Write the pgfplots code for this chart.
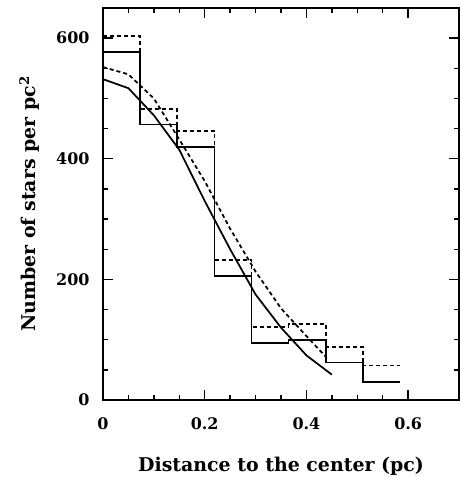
\documentclass[border=0pt]{standalone}
\usepackage{fontspec}
\setmainfont{DejaVu Serif}
\usepackage{pgfplots}
\pgfplotsset{compat=1.18}
\begin{document}
\begin{tikzpicture}
\useasboundingbox (-103bp,-78bp) rectangle (357bp,400bp);
\begin{axis}[
  at={(0,0)}, anchor=south west,
  width=356bp, height=392bp, scale only axis,
  xmin=0, xmax=0.7, ymin=0, ymax=650,
  xtick={0,0.2,0.4,0.6}, ytick={0,200,400,600},
  minor x tick num=3, minor y tick num=3,
  tick align=inside,
  major tick length=10bp, minor tick length=5bp,
  axis line style={line width=1.8pt},
  every tick/.style={line width=1.4pt, black},
  /pgf/number format/assume math mode=true,
  tick label style={font=\bfseries\fontsize{16}{16}\selectfont},
  xticklabel style={yshift=-14bp},
  yticklabel style={xshift=-10bp},
  xlabel={Distance to the center (pc)},
  ylabel={Number of stars per pc\textsuperscript{2}},
  label style={font=\bfseries\fontsize{19}{20}\selectfont},
  xlabel style={yshift=-21bp},
  ylabel style={yshift=10bp},
]
% histograms
\addplot[const plot, black, line width=1.75pt] coordinates {
  (0,577) (0.073,457) (0.146,420) (0.219,206) (0.292,94)
  (0.365,99) (0.438,62) (0.511,30) (0.584,30)
};
\addplot[const plot, black, line width=1.75pt, dash pattern=on 4bp off 3bp] coordinates {
  (0,604) (0.073,482) (0.146,446) (0.219,232) (0.292,121)
  (0.365,126) (0.438,88) (0.511,57) (0.584,57)
};
% profiles
\addplot[black, line width=1.75pt] coordinates {
  (0,532) (0.05,517) (0.10,472) (0.15,415) (0.20,330)
  (0.25,250) (0.30,175) (0.35,120) (0.40,74) (0.45,42)
};
\addplot[black, line width=1.75pt, dash pattern=on 4bp off 3bp] coordinates {
  (0,552) (0.05,540) (0.10,500) (0.15,432) (0.20,363)
  (0.25,284) (0.30,213) (0.35,152) (0.40,106) (0.44,70)
};
\end{axis}
\end{tikzpicture}
\end{document}
